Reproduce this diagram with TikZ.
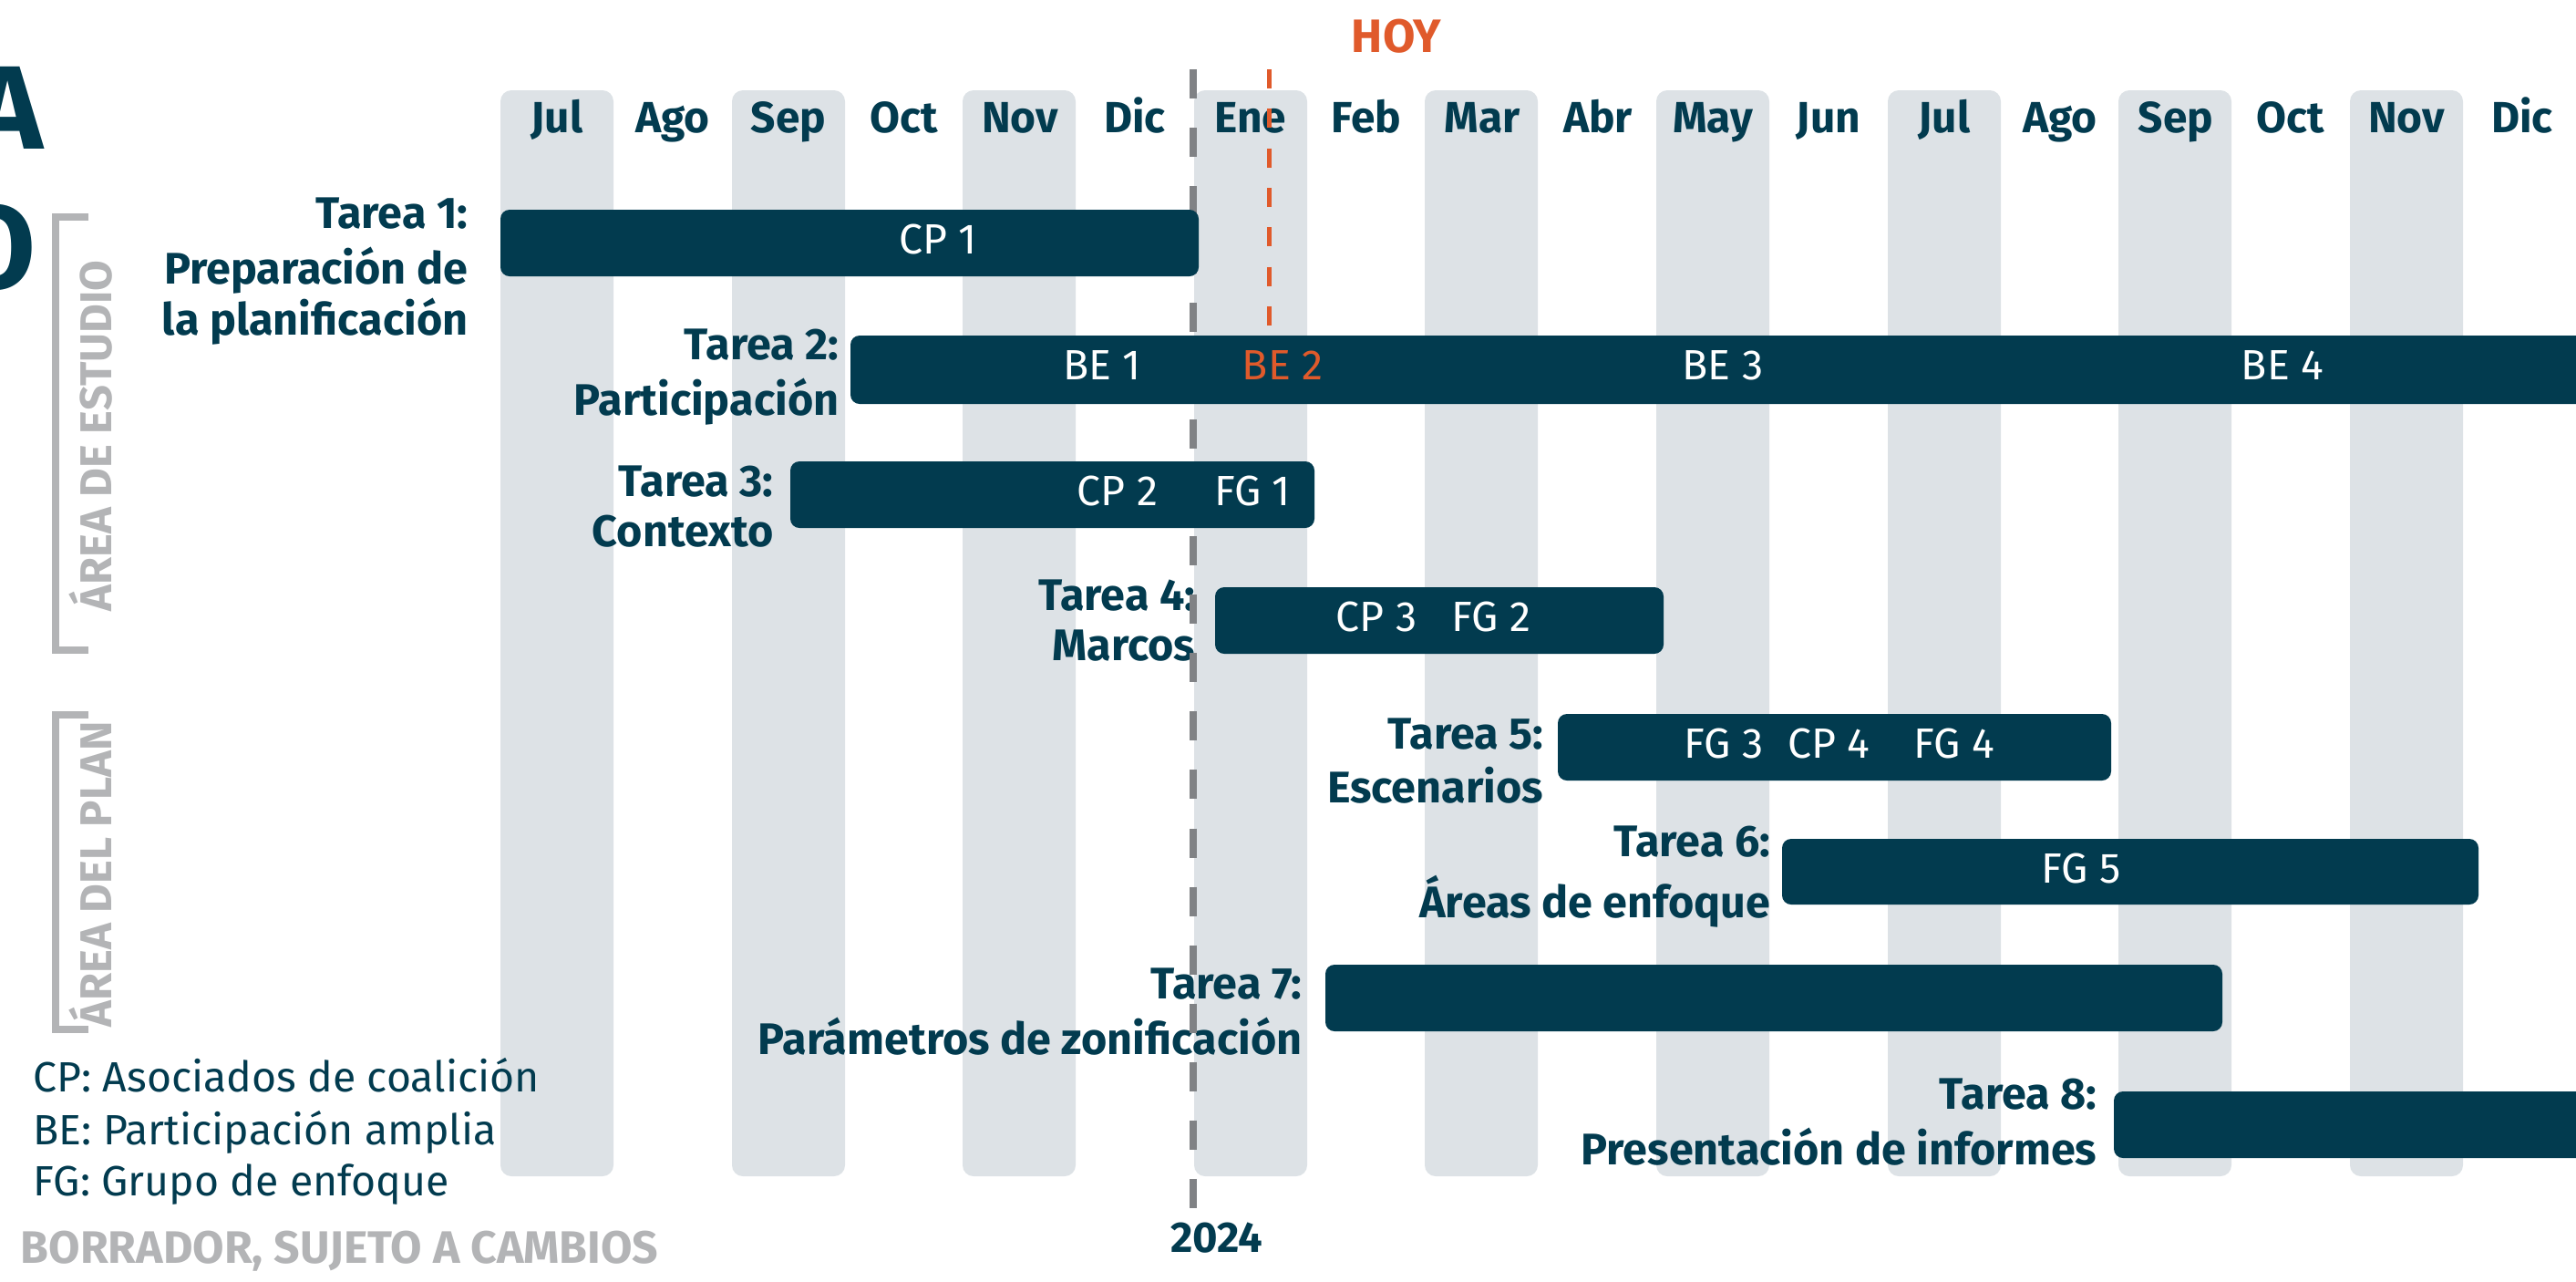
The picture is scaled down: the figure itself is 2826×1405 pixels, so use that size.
\documentclass[tikz,border=0pt]{standalone}
\usepackage{fontspec}
\setmainfont{Fira Sans}
\definecolor{teal0}{RGB}{2,59,79}
\definecolor{colgray}{RGB}{221,226,230}
\definecolor{dashgray}{RGB}{128,130,133}
\definecolor{hoyorange}{RGB}{224,90,43}
\definecolor{softgray}{RGB}{179,180,182}

\begin{document}
\begin{tikzpicture}[x=0.01cm,y=-0.01cm,
	monthcol/.style={fill=colgray, rounded corners=0.12cm},
	taskbar/.style={fill=teal0, rounded corners=0.1cm},
	monthlbl/.style={font=\bfseries\fontsize{13.6}{16}\selectfont, text=teal0, anchor=base, inner sep=0pt},
	tasklbl/.style={font=\bfseries\fontsize{13.8}{15.8}\selectfont, text=teal0, align=right, anchor=east, inner sep=0pt},
	barlbl/.style={font=\fontsize{13.2}{16}\selectfont, text=white, anchor=base, inner sep=0pt},
	keylbl/.style={font=\fontsize{13.2}{15}\selectfont, text=teal0, anchor=base west, inner sep=0pt},
	arealbl/.style={font=\bfseries\fontsize{13.9}{16}\selectfont, text=softgray, rotate=90, anchor=base, inner sep=0pt},
	bracket/.style={draw=softgray, line width=0.08cm},
	]
	\useasboundingbox (0,0) rectangle (2826,1405);
	% shaded months
	\fill[monthcol] (549,99) rectangle (673,1290);
	\fill[monthcol] (803,99) rectangle (927,1290);
	\fill[monthcol] (1056,99) rectangle (1180,1290);
	\fill[monthcol] (1310,99) rectangle (1434,1290);
	\fill[monthcol] (1563,99) rectangle (1687,1290);
	\fill[monthcol] (1817,99) rectangle (1941,1290);
	\fill[monthcol] (2071,99) rectangle (2195,1290);
	\fill[monthcol] (2324,99) rectangle (2448,1290);
	\fill[monthcol] (2578,99) rectangle (2702,1290);
	%
	\node[monthlbl] (jul1) at (611,145) {Jul};
	\node[monthlbl] (ago1) at (738,145) {Ago};
	\node[monthlbl] (sep1) at (865,145) {Sep};
	\node[monthlbl] (oct1) at (992,145) {Oct};
	\node[monthlbl] (nov1) at (1119,145) {Nov};
	\node[monthlbl] (dic1) at (1245,145) {Dic};
	\node[monthlbl] (ene2) at (1372,145) {Ene};
	\node[monthlbl] (feb2) at (1499,145) {Feb};
	\node[monthlbl] (mar2) at (1626,145) {Mar};
	\node[monthlbl] (abr2) at (1753,145) {Abr};
	\node[monthlbl] (may2) at (1879,145) {May};
	\node[monthlbl] (jun2) at (2006,145) {Jun};
	\node[monthlbl] (jul2) at (2133,145) {Jul};
	\node[monthlbl] (ago2) at (2260,145) {Ago};
	\node[monthlbl] (sep2) at (2387,145) {Sep};
	\node[monthlbl] (oct2) at (2513,145) {Oct};
	\node[monthlbl] (nov2) at (2640,145) {Nov};
	\node[monthlbl] (dic2) at (2767,145) {Dic};
	%
	\node[tasklbl] (t1) at (514,298) {\strut Tarea 1:\\Preparación de\\la planificación\strut};
	\node[tasklbl] (t2) at (921,414) {\strut Tarea 2:\\Participación\strut};
	\node[tasklbl] (t3) at (849,561) {\strut Tarea 3:\\Contexto\strut};
	\node[tasklbl] (t4) at (1312,686) {\strut Tarea 4:\\Marcos\strut};
	\node[tasklbl] (t5) at (1694,840) {\strut Tarea 5:\\Escenarios\strut};
	\node[tasklbl] (t6) at (1943,962) {\strut Tarea 6:\\Áreas de enfoque\strut};
	\node[tasklbl] (t7) at (1429,1115) {\strut Tarea 7:\\Parámetros de zonificación\strut};
	\node[tasklbl] (t8) at (2301,1236) {\strut Tarea 8:\\Presentación de informes\strut};
	%
	\coordinate (ytop) at (1309,76);
	\coordinate (ybot) at (1309,1325);
	\draw[dashgray, line width=0.08cm, dash pattern=on 0.32cm off 0.32cm] (ytop) -- (ybot);
	\node[monthlbl, font=\bfseries\fontsize{13.4}{15}\selectfont] (year) at (1335,1373) {2024};
	%
	\fill[taskbar] (549,230) rectangle (1315,303);
	\fill[taskbar] (933,368) rectangle (2880,443);
	\fill[taskbar] (867,506) rectangle (1442,579);
	\fill[taskbar] (1333,644) rectangle (1825,717);
	\fill[taskbar] (1709,783) rectangle (2316,856);
	\fill[taskbar] (1955,920) rectangle (2719,992);
	\fill[taskbar] (1454,1058) rectangle (2438,1131);
	\fill[taskbar] (2319,1197) rectangle (2880,1270);
	%
	\node[barlbl] (cp1) at (1029,278) {CP 1};
	\node[barlbl] (be1) at (1209,416) {BE 1};
	\node[barlbl, text=hoyorange] (be2) at (1407,416) {BE 2};
	\node[barlbl] (be3) at (1890,416) {BE 3};
	\node[barlbl] (be4) at (2504,416) {BE 4};
	\node[barlbl] (cp2) at (1226,554) {CP 2};
	\node[barlbl] (fg1) at (1374,554) {FG 1};
	\node[barlbl] (cp3) at (1510,692) {CP 3};
	\node[barlbl] (fg2) at (1636,692) {FG 2};
	\node[barlbl] (fg3) at (1891,831) {FG 3};
	\node[barlbl] (cp4) at (2006,831) {CP 4};
	\node[barlbl] (fg4) at (2144,831) {FG 4};
	\node[barlbl] (fg5) at (2283,968) {FG 5};
	%
	\coordinate (hoytop) at (1392,76);
	\coordinate (hoybot) at (1392,357);
	\draw[hoyorange, line width=0.05cm, dash pattern=on 0.21cm off 0.223cm] (hoytop) -- (hoybot);
	\node[monthlbl, text=hoyorange, font=\bfseries\fontsize{14.6}{16}\selectfont] (hoy) at (1532,57) {HOY};
	%
	\node[monthlbl, anchor=base east, font=\bfseries\fontsize{37}{40}\selectfont] (bigA) at (48,163) {A};
	\node[monthlbl, anchor=base east, font=\bfseries\fontsize{37}{40}\selectfont] (bigO) at (40,316) {O};
	%
	\draw[bracket] (97,238) -- (61,238) -- (61,713) -- (97,713);
	\draw[bracket] (97,784) -- (61,784) -- (61,1129) -- (97,1129);
	\node[arealbl] (estudio) at (123,478) {ÁREA DE ESTUDIO};
	\node[arealbl] (plan) at (123,959) {ÁREA DEL PLAN};
	%
	\node[keylbl] (kcp) at (36,1197) {CP: Asociados de coalición};
	\node[keylbl] (kbe) at (36,1255) {BE: Participación amplia};
	\node[keylbl] (kfg) at (36,1311) {FG: Grupo de enfoque};
	\node[keylbl, text=softgray, font=\bfseries\fontsize{14.2}{16}\selectfont] (draft) at (22,1385) {BORRADOR, SUJETO A CAMBIOS};
\end{tikzpicture}
\end{document}
